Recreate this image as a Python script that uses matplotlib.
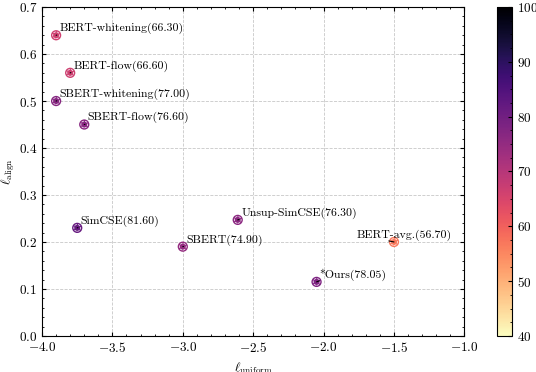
import matplotlib
matplotlib.use("Agg")
from matplotlib import pyplot as plt
from matplotlib.ticker import AutoMinorLocator
import numpy as np

models = ["BERT-whitening", "BERT-flow", "SBERT-whitening", "SBERT-flow",
          "SimCSE", "SBERT", "Unsup-SimCSE", "*Ours", "BERT-avg."]
uniform = [-3.90, -3.80, -3.90, -3.70, -3.75, -3.00, -2.61, -2.05, -1.50]
align = [0.64, 0.56, 0.50, 0.45, 0.23, 0.19, 0.247, 0.115, 0.20]
scores = [66.30, 66.60, 77.00, 76.60, 81.60, 74.90, 76.30, 78.05, 56.70]
# label offsets in points (BERT-avg. label sits to the left)
offsets = [(2.5, 3), (2.5, 3), (2.5, 3), (2.5, 3), (2.5, 3), (2.5, 3),
           (3, 3), (2, 3), (-27, 3)]

plt.rcParams["font.family"] = "serif"
plt.rcParams["font.serif"] = ["cmr10"]
plt.rcParams["mathtext.fontset"] = "cm"
plt.rcParams["axes.formatter.use_mathtext"] = True
plt.rcParams["font.size"] = 9.5
plt.rcParams["xtick.direction"] = "in"
plt.rcParams["ytick.direction"] = "in"
plt.rcParams["xtick.top"] = True
plt.rcParams["ytick.right"] = True
plt.rcParams["xtick.major.size"] = 3
plt.rcParams["ytick.major.size"] = 3
plt.rcParams["xtick.minor.size"] = 1.5
plt.rcParams["ytick.minor.size"] = 1.5
plt.rcParams["xtick.minor.visible"] = True
plt.rcParams["ytick.minor.visible"] = True

fig = plt.figure(figsize=(5.36, 3.72), dpi=100)
ax = fig.add_axes([0.0784, 0.097, 0.788, 0.884])
cax = fig.add_axes([0.927, 0.097, 0.028, 0.884])

sc = ax.scatter(uniform, align, c=scores, cmap="magma_r", vmin=40, vmax=100,
                s=55, edgecolors="none", zorder=3)
ax.scatter(uniform, align, s=24, facecolors="none", edgecolors="white",
           linewidths=0.5, linestyle="--", zorder=4)

for name, x, y, s, off in zip(models, uniform, align, scores, offsets):
    rel = (0, 0) if off[0] > 0 else (0.34, 0)
    ax.annotate("%s(%.2f)" % (name, s), xy=(x, y), xytext=off,
                textcoords="offset points", fontsize=8.5,
                arrowprops=dict(arrowstyle="-", color="black", lw=0.8,
                                shrinkA=0, shrinkB=0, relpos=rel), zorder=5)

ax.set_xlim(-4.0, -1.0)
ax.set_ylim(0.0, 0.7)
ax.xaxis.set_minor_locator(AutoMinorLocator(5))
ax.yaxis.set_minor_locator(AutoMinorLocator(5))
ax.grid(True, which="major", linestyle="--", color="#c8c8c8", linewidth=0.6)
ax.set_axisbelow(True)
ax.set_xlabel(r"$\ell_{\rm uniform}$")
ax.set_ylabel(r"$\ell_{\rm align}$", labelpad=1)

cb = fig.colorbar(sc, cax=cax)
cb.set_ticks([40, 50, 60, 70, 80, 90, 100])
cb.ax.yaxis.set_minor_locator(AutoMinorLocator(4))

fig.savefig("out.png", dpi=100)
